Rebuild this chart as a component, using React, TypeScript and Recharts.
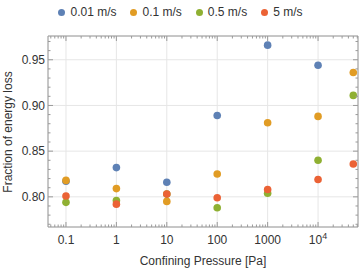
import React from "react"
import {
  ScatterChart,
  Scatter,
  XAxis,
  YAxis,
  CartesianGrid,
  Legend,
} from "recharts"

// confining pressure [Pa] for each measurement column
const pressures = [0.1, 1, 10, 100, 1000, 10000, 50000]

// fraction of energy loss per impact speed (null = no point)
const loss001 = [0.817, 0.832, 0.816, 0.889, 0.966, 0.944, null]
const loss01 = [0.818, 0.809, 0.795, 0.825, 0.881, 0.888, 0.936]
const loss05 = [0.794, 0.796, 0.803, 0.788, 0.804, 0.840, 0.911]
const loss5 = [0.801, 0.792, 0.803, 0.799, 0.808, 0.819, 0.836]

const speedNames = ["0.01 m/s", "0.1 m/s", "0.5 m/s", "5 m/s"]
const colors = ["#5E81B5", "#E19C24", "#8FB032", "#EB6235"]

const xTicks = [0.1, 1, 10, 100, 1000, 10000]
const yTicks = [0.8, 0.85, 0.9, 0.95]

const X_DOMAIN = [0.044, 62000]
const Y_DOMAIN = [0.767, 0.976]

const W = 361
const H = 272
const MARGIN = { top: 35, right: 2, bottom: 0, left: 0 }
const Y_W = 48
const X_H = 45
// the frame axes (top / right) take 1px each
const PLOT_W = W - MARGIN.left - MARGIN.right - Y_W - 1
const PLOT_H = H - MARGIN.top - MARGIN.bottom - X_H - 1

const FONT = "'Liberation Sans', Arial, sans-serif"
const TEXT = "#333"
const FRAME = "#9a9a9a"

// minor tick positions for the frame
const xMinor: number[] = []
for (let e = -2; e <= 4; e++) {
  for (let k = 1; k <= 9; k++) {
    const v = k * Math.pow(10, e)
    if (v >= X_DOMAIN[0] && v <= X_DOMAIN[1]) xMinor.push(v)
  }
}
const yMinor: number[] = []
for (let i = 77; i <= 97; i++) yMinor.push(i / 100)

const isMajor = (v: number, list: number[]) =>
  list.some(t => Math.abs(t - v) / t < 1e-6)

const series = [loss001, loss01, loss05, loss5].map(vals =>
  pressures
    .map((p, i) => ({ x: p, y: vals[i] }))
    .filter(d => d.y !== null)
)

const XLabelTick = (p: any) => {
  const v = p.payload.value
  const style = { fontFamily: FONT, fontSize: 12, fill: TEXT }
  if (v >= 10000) {
    const exp = Math.round(Math.log10(v))
    return (
      <text x={p.x} y={p.y} dy="0.71em" textAnchor="middle" {...style}>
        10
        <tspan dy={-5} fontSize={9}>{exp}</tspan>
      </text>
    )
  }
  return (
    <text x={p.x} y={p.y} dy="0.71em" textAnchor="middle" {...style}>
      {String(v)}
    </text>
  )
}

const YLabelTick = (p: any) => (
  <text
    x={p.x}
    y={p.y}
    dy="0.355em"
    textAnchor="end"
    fontFamily={FONT}
    fontSize={12}
    fill={TEXT}
  >
    {p.payload.value.toFixed(2)}
  </text>
)

// ticks pointing into the frame, top and bottom
const XFrameTick = (p: any) => {
  const len = isMajor(p.payload.value, xTicks) ? 5 : 2.5
  const top = p.y
  const bottom = p.y + PLOT_H
  return (
    <g stroke={FRAME} strokeWidth={1}>
      <line x1={p.x} x2={p.x} y1={top} y2={top + len} />
      <line x1={p.x} x2={p.x} y1={bottom} y2={bottom - len} />
    </g>
  )
}

// ticks pointing into the frame, right and left
const YFrameTick = (p: any) => {
  const len = isMajor(p.payload.value, yTicks) ? 5 : 2.5
  const right = p.x
  const left = p.x - PLOT_W
  return (
    <g stroke={FRAME} strokeWidth={1}>
      <line x1={right} x2={right - len} y1={p.y} y2={p.y} />
      <line x1={left} x2={left + len} y1={p.y} y2={p.y} />
    </g>
  )
}

const LegendRow = (props: any) => {
  const items = props.payload || []
  return (
    <div
      style={{
        display: "flex",
        justifyContent: "center",
        alignItems: "center",
        fontFamily: FONT,
        fontSize: 12,
        color: TEXT,
      }}
    >
      {items.map((it: any, i: number) => (
        <div
          key={i}
          style={{ display: "flex", alignItems: "center", marginRight: i < items.length - 1 ? 14 : 0 }}
        >
          <span
            style={{
              width: 7,
              height: 7,
              borderRadius: "50%",
              background: it.color || colors[i],
              marginRight: 5,
              display: "inline-block",
            }}
          />
          <span>{it.value}</span>
        </div>
      ))}
    </div>
  )
}

export default function App() {
  return (
    <div style={{ width: W, height: H, background: "#fff" }}>
      <style>{`body{margin:0}`}</style>
      <ScatterChart width={W} height={H} margin={MARGIN}>
        <CartesianGrid
          xAxisId="b"
          yAxisId="l"
          stroke="#e6e6e6"
          strokeWidth={1}
        />
        <XAxis
          xAxisId="b"
          dataKey="x"
          type="number"
          scale="log"
          domain={X_DOMAIN}
          allowDataOverflow
          ticks={xTicks}
          interval={0}
          height={X_H}
          axisLine={{ stroke: FRAME }}
          tickLine={false}
          tickSize={0}
          tickMargin={8}
          tick={<XLabelTick />}
          label={{
            value: "Confining Pressure [Pa]",
            position: "insideBottom",
            offset: 7,
            style: { fontFamily: FONT, fontSize: 12, fill: TEXT },
          }}
        />
        <XAxis
          xAxisId="t"
          orientation="top"
          dataKey="x"
          type="number"
          scale="log"
          domain={X_DOMAIN}
          allowDataOverflow
          ticks={xMinor}
          interval={0}
          height={1}
          axisLine={{ stroke: FRAME }}
          tickLine={false}
          tickSize={0}
          tickMargin={0}
          tick={<XFrameTick />}
        />
        <YAxis
          yAxisId="l"
          dataKey="y"
          type="number"
          domain={Y_DOMAIN}
          allowDataOverflow
          ticks={yTicks}
          interval={0}
          width={Y_W}
          axisLine={{ stroke: FRAME }}
          tickLine={false}
          tickSize={0}
          tickMargin={3}
          tick={<YLabelTick />}
          label={{
            content: () => (
              <text
                x={12}
                y={132}
                transform="rotate(-90 12 132)"
                textAnchor="middle"
                fontFamily={FONT}
                fontSize={12}
                fill={TEXT}
              >
                Fraction of energy loss
              </text>
            ),
          }}
        />
        <YAxis
          yAxisId="r"
          orientation="right"
          dataKey="y"
          type="number"
          domain={Y_DOMAIN}
          allowDataOverflow
          ticks={yMinor}
          interval={0}
          width={1}
          axisLine={{ stroke: FRAME }}
          tickLine={false}
          tickSize={0}
          tickMargin={0}
          tick={<YFrameTick />}
        />
        <Legend
          layout="horizontal"
          verticalAlign="middle"
          align="center"
          wrapperStyle={{ position: "absolute", top: 5, left: 0, width: W }}
          content={<LegendRow />}
        />
        {series.map((data, i) => (
          <Scatter
            key={speedNames[i]}
            name={speedNames[i]}
            data={data}
            xAxisId="b"
            yAxisId="l"
            fill={colors[i]}
            isAnimationActive={false}
            shape={(p: any) => (
              <circle cx={p.cx} cy={p.cy} r={3.8} fill={colors[i]} />
            )}
          />
        ))}
      </ScatterChart>
    </div>
  )
}
